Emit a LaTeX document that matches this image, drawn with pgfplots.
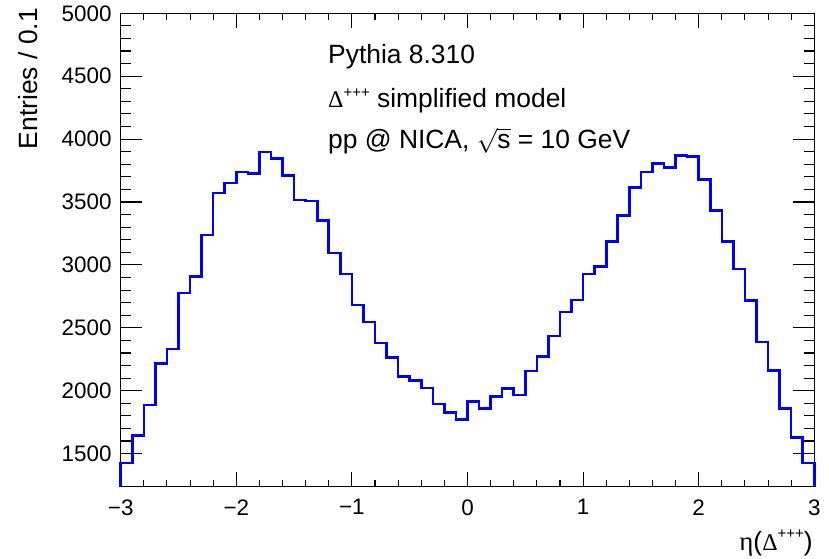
\documentclass[border=0pt]{standalone}
\usepackage{fontspec}
\setmainfont{Liberation Sans}
\newfontfamily\grk{Liberation Serif}
\usepackage{pgfplots}
\pgfplotsset{compat=1.18}
\begin{document}
\begin{tikzpicture}
\begin{axis}[
  scale only axis, width=693.6bp, height=473.4bp,
  xmin=-3, xmax=3, ymin=1237, ymax=5000,
  xtick={-3,-2,-1,0,1,2,3}, xticklabels={−3,−2,−1,0,1,2,3},
  ytick={1500,2000,2500,3000,3500,4000,4500,5000},
  minor x tick num=4, minor y tick num=4,
  tick align=inside,
  major tick length=21bp, minor tick length=10.5bp,
  x tick style={/pgfplots/major tick length=15bp, /pgfplots/minor tick length=7bp},
  axis line style={line width=1.2bp},
  every tick/.style={black, line width=1.1bp},
  /pgf/number format/assume math mode=true,
  /pgf/number format/1000 sep={},
  tick label style={font=\fontsize{22.5}{27}\selectfont, inner sep=0pt},
  yticklabel style={xshift=-9bp},
  xticklabel style={yshift=-12.5bp},
  clip=false,
]
\addplot[const plot, blue, line width=2.6bp] coordinates {
(-3.0,1237) (-3.0,1426) (-2.9,1646) (-2.8,1885) (-2.7,2216) (-2.6,2333)
(-2.5,2778) (-2.4,2908) (-2.3,3237) (-2.2,3572) (-2.1,3651)
(-2.0,3739) (-1.9,3728) (-1.8,3898) (-1.7,3847) (-1.6,3709)
(-1.5,3516) (-1.4,3507) (-1.3,3351) (-1.2,3094) (-1.1,2927)
(-1.0,2680) (-0.9,2545) (-0.8,2378) (-0.7,2264) (-0.6,2113)
(-0.5,2079) (-0.4,2020) (-0.3,1893) (-0.2,1827) (-0.1,1773)
(0.0,1914) (0.1,1859) (0.2,1954) (0.3,2018) (0.4,1965)
(0.5,2158) (0.6,2272) (0.7,2436) (0.8,2625) (0.9,2720)
(1.0,2927) (1.1,2988) (1.2,3187) (1.3,3394) (1.4,3617)
(1.5,3739) (1.6,3807) (1.7,3775) (1.8,3868) (1.9,3863)
(2.0,3677) (2.1,3431) (2.2,3187) (2.3,2969) (2.4,2715)
(2.5,2386) (2.6,2161) (2.7,1859) (2.8,1628) (2.9,1426)
(3.0,1426) (3.0,1237)
};
\end{axis}
\def\txt{\fontsize{26.5}{32}\selectfont}
\node[anchor=base west, inner sep=0pt, font=\txt] at ([shift={(207.3bp,-50bp)}]current axis.north west) {Pythia 8.310};
\node[anchor=base west, inner sep=0pt, font=\txt] at ([shift={(207.3bp,-94bp)}]current axis.north west) {{\grk\fontsize{24}{26}\selectfont Δ}\raisebox{10bp}{\fontsize{15}{17}\selectfont +++} simplified model};
\node[anchor=base west, inner sep=0pt, font=\txt] at ([shift={(207.3bp,-135.7bp)}]current axis.north west) {pp @ NICA, $\sqrt{\mbox{s}}$ = 10 GeV};
\node[anchor=base east, inner sep=0pt, font=\txt] at ([shift={(-1.5bp,-63.3bp)}]current axis.south east) {{\grk\fontsize{27}{30}\selectfont η}({\grk\fontsize{24}{26}\selectfont Δ}\raisebox{11.5bp}{\fontsize{15}{17}\selectfont +++})};
\node[anchor=base east, inner sep=0pt, rotate=90, font=\txt] at ([shift={(-82.7bp,5.3bp)}]current axis.north west) {Entries / 0.1};
\pgfresetboundingbox
\path ([shift={(-120.7bp,-72.3bp)}]current axis.south west) rectangle ++(829bp,559bp);
\end{tikzpicture}
\end{document}
